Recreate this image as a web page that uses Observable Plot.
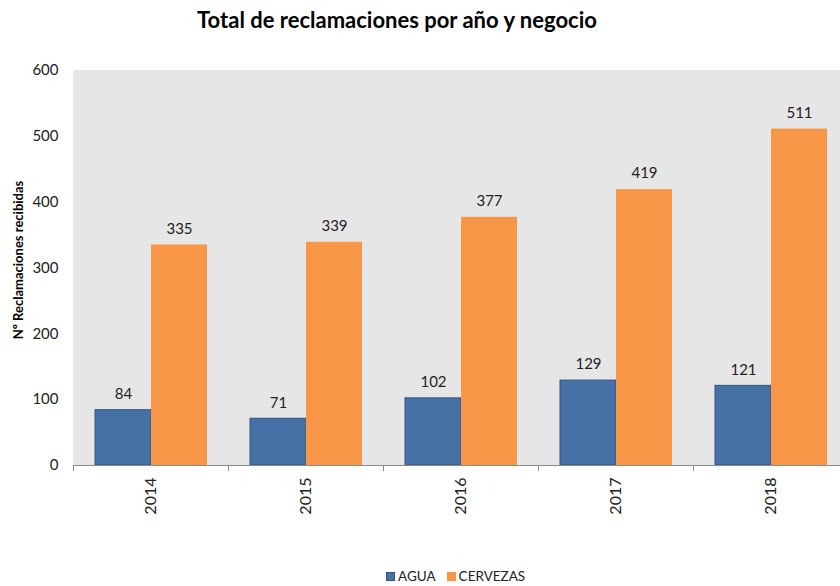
<!DOCTYPE html>
<html>
<head>
<meta charset="utf-8">
<script src="https://cdn.jsdelivr.net/npm/d3@7"></script>
<script src="https://cdn.jsdelivr.net/npm/@observablehq/plot@0.6"></script>
<style>
  html, body { margin: 0; padding: 0; background: #fff; overflow: hidden; width: 840px; height: 586px; }
  #wrap { position: relative; width: 840px; height: 586px; font-family: Lato, "Open Sans", sans-serif; }
  #title { position: absolute; left: 0; width: 794px; top: 6px; text-align: center; font-weight: bold; font-size: 22px; color: #000; }
  #ylabel { position: absolute; left: 18px; top: 260px; transform: translate(-50%, -50%) rotate(-90deg); white-space: nowrap; font-weight: bold; font-size: 13px; color: #000; }
  #legend { position: absolute; left: 386px; top: 568px; font-size: 13.5px; color: #222; display: flex; align-items: center; }
  #legend .sw { display: inline-block; width: 9px; height: 9px; margin-right: 3px; }
  #legend .item { display: flex; align-items: center; margin-right: 11px; }
  #chart { position: absolute; left: 0; top: 0; }
</style>
</head>
<body>
<div id="wrap">
  <div id="chart"></div>
  <div id="title">Total de reclamaciones por año y negocio</div>
  <div id="ylabel">Nº Reclamaciones recibidas</div>
  <div id="legend"></div>
</div>
<script>
const years = ["2014", "2015", "2016", "2017", "2018"];
const series = ["AGUA", "CERVEZAS"];
const agua = [84, 71, 102, 129, 121];
const cervezas = [335, 339, 377, 419, 511];
const yTicks = [0, 100, 200, 300, 400, 500, 600];
const colors = ["#4571a7", "#f79646"];

const data = [];
years.forEach((y, i) => {
  data.push({year: y, series: "AGUA", value: agua[i]});
  data.push({year: y, series: "CERVEZAS", value: cervezas[i]});
});

const chart = Plot.plot({
  width: 848,
  height: 586,
  marginTop: 70,
  marginBottom: 121,
  marginLeft: 73,
  marginRight: 0,
  style: {fontFamily: "Lato, 'Open Sans', sans-serif", fontSize: "14px", background: "transparent", maxWidth: "none", overflow: "visible", color: "#222"},
  fx: {domain: years, paddingInner: 0, paddingOuter: 0, label: null},
  x: {domain: series, paddingInner: 0, paddingOuter: 0.36, axis: null},
  y: {domain: [0, 600], label: null},
  color: {domain: series, range: colors},
  marks: [
    Plot.frame({fill: "#e6e6e6", stroke: "#e6e6e6", strokeWidth: 1.5, shapeRendering: "crispEdges"}),
    Plot.barY(data, {filter: d => d.series === "AGUA", fx: "year", x: "series", y: "value", fill: "series", stroke: "#34547d", strokeWidth: 1}),
    Plot.barY(data, {filter: d => d.series === "CERVEZAS", fx: "year", x: "series", y: "value", fill: "series"}),
    Plot.text(data, {fx: "year", x: "series", y: "value", text: d => String(d.value), dy: -16, fontSize: 15, fill: "#222"}),
    Plot.ruleY([0], {stroke: "#8a8a8a", strokeWidth: 1.2}),
    Plot.axisY({ticks: yTicks, tickSize: 0, tickPadding: 15, fontSize: 15, label: null}),
    Plot.axisFx({anchor: "bottom", tickSize: 6, dx: -77.5, stroke: "#8a8a8a", tickFormat: () => "", label: null}),
    Plot.axisFx({anchor: "bottom", tickSize: 0, tickRotate: -90, tickPadding: 12, fontSize: 16, label: null})
  ]
});
document.getElementById("chart").appendChild(chart);

const legend = document.getElementById("legend");
series.forEach((s, i) => {
  const item = document.createElement("span");
  item.className = "item";
  const sw = document.createElement("span");
  sw.className = "sw";
  sw.style.background = colors[i];
  if (i === 0) sw.style.boxShadow = "inset 0 0 0 1px #34547d";
  item.appendChild(sw);
  item.appendChild(document.createTextNode(s));
  legend.appendChild(item);
});
</script>
</body>
</html>
